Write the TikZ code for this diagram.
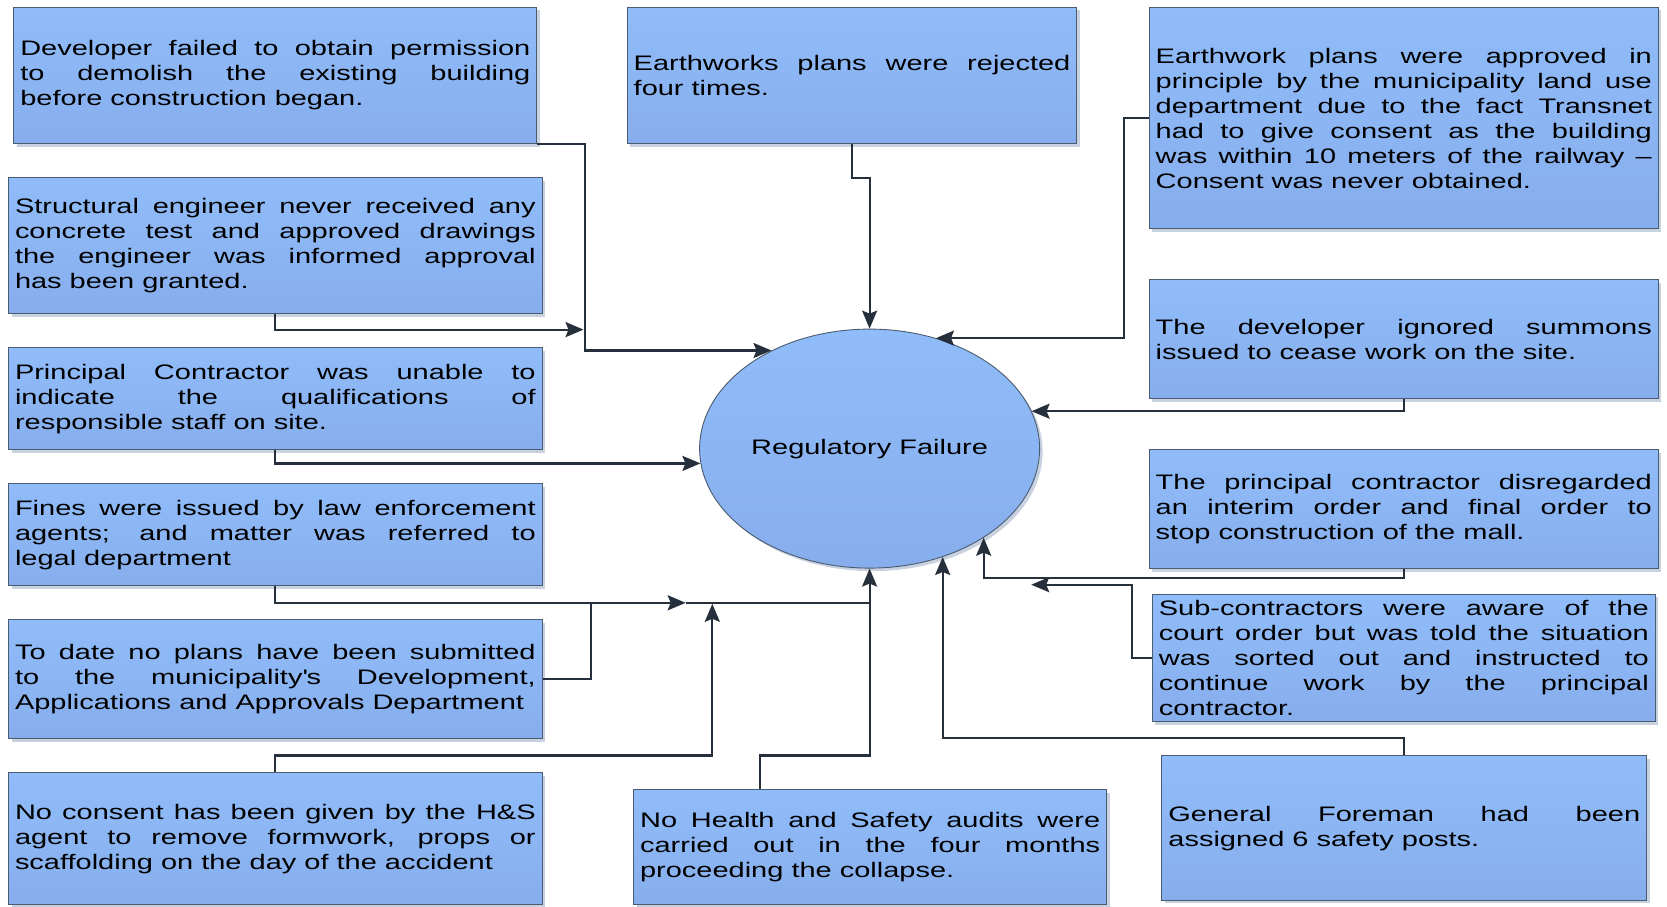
\documentclass[tikz,border=0pt]{standalone}
\usepackage{fontspec}
\setmainfont{Liberation Sans}[FakeStretch=1.38]
\usetikzlibrary{arrows.meta,shadows,calc,shapes.geometric}
\definecolor{boxtop}{HTML}{90BCFA}
\definecolor{boxbot}{HTML}{87AEEC}
\definecolor{boxline}{HTML}{4B5B70}
\definecolor{linec}{HTML}{26303D}
\definecolor{shadowc}{HTML}{B9C6D8}
\newcommand\boxfont{\fontsize{21pt}{25pt}\selectfont}
\hbadness=10000
\begin{document}
\begin{tikzpicture}[x=1pt,y=-1pt,
  cbox/.style={draw=boxline,line width=0.9pt,top color=boxtop,bottom color=boxbot,
    drop shadow={shadow xshift=3pt,shadow yshift=-3pt,fill=shadowc,opacity=0.8},
    inner xsep=6.5pt,inner ysep=0pt,align=justify,font=\boxfont},
  arr/.style={draw=linec,line width=2.2pt,-{Stealth[length=18pt,width=15pt,inset=3pt]}},
  ln/.style={draw=linec,line width=2.2pt}]
\useasboundingbox (0,0) rectangle (1667,907);
\fill[white] (0,0) rectangle (1667,907);

% left column
\node[cbox,minimum width=523.1pt,minimum height=136.1pt,text width=510.1pt] (B1) at (275.35,75.45)
 {Developer failed to obtain permission\linebreak to demolish the existing building\linebreak before construction began.};
\node[cbox,minimum width=533.7pt,minimum height=136.1pt,text width=520.7pt] (B2) at (275.35,245.6)
 {Structural engineer never received any\linebreak concrete test and approved drawings\linebreak the engineer was informed approval\linebreak has been granted.};
\node[cbox,minimum width=533.7pt,minimum height=102.1pt,text width=520.7pt] (B3) at (275.35,398.7)
 {Principal Contractor was unable to\linebreak indicate the qualifications of\linebreak responsible staff on site.};
\node[cbox,minimum width=533.7pt,minimum height=102.1pt,text width=520.7pt] (B4) at (275.35,534.75)
 {Fines were issued by law enforcement\linebreak agents; and matter was referred to\linebreak legal department};
\node[cbox,minimum width=533.7pt,minimum height=119.1pt,text width=520.7pt] (B5) at (275.35,679.3)
 {To date no plans have been submitted\linebreak to the municipality\textquotesingle s Development,\linebreak Applications and Approvals Department};
\node[cbox,minimum width=533.7pt,minimum height=131.8pt,text width=520.7pt] (B6) at (275.35,838.8)
 {No consent has been given by the H\&S\linebreak agent to remove formwork, props or\linebreak scaffolding on the day of the accident};

% middle
\node[cbox,minimum width=449.7pt,minimum height=136.1pt,text width=436.7pt] (M1) at (852.05,75.45)
 {Earthworks plans were rejected\linebreak four times.};
\node[ellipse,draw=boxline,line width=0.9pt,top color=boxtop,bottom color=boxbot,
  drop shadow={shadow xshift=3pt,shadow yshift=-3pt,fill=shadowc,opacity=0.8},
  minimum width=340pt,minimum height=239pt,inner sep=0pt,font=\boxfont] (E) at (869.6,448.6) {Regulatory Failure};
\node[cbox,minimum width=473.1pt,minimum height=114.8pt,text width=460.1pt] (M2) at (870.15,847.3)
 {No Health and Safety audits were\linebreak carried out in the four months\linebreak proceeding the collapse.};

% right column
\node[cbox,minimum width=509.2pt,minimum height=221.1pt,text width=496.2pt] (R1) at (1403.8,118)
 {Earthwork plans were approved in\linebreak principle by the municipality land use\linebreak department due to the fact Transnet\linebreak had to give consent as the building\linebreak was within 10 meters of the railway \textendash\linebreak Consent was never obtained.};
\node[cbox,minimum width=509.2pt,minimum height=119.1pt,text width=496.2pt] (R2) at (1403.8,339.1)
 {The developer ignored summons\linebreak issued to cease work on the site.};
\node[cbox,minimum width=509.2pt,minimum height=119.1pt,text width=496.2pt] (R3) at (1403.8,509.2)
 {The principal contractor disregarded\linebreak an interim order and final order to\linebreak stop construction of the mall.};
\node[cbox,minimum width=502.9pt,minimum height=127.6pt,text width=489.9pt] (R4) at (1403.85,658)
 {Sub-contractors were aware of the\linebreak court order but was told the situation\linebreak was sorted out and instructed to\linebreak continue work by the principal\linebreak contractor.};
\node[cbox,minimum width=484.8pt,minimum height=144.6pt,text width=471.8pt] (R5) at (1404.3,828.1)
 {General Foreman had been\linebreak assigned 6 safety posts.};

% connectors
\coordinate (M) at (583.5,329.6);
\coordinate (K) at (685.7,602.8);
\coordinate (L) at (591.1,602.8);
\coordinate (J) at (712.3,603.8);
\coordinate (N) at (1031.2,584.7);

\draw[arr] (B1.south east) -- ++(47.8,0) |- (E.135);
\draw[arr] (B2.south) |- (M);
\draw[arr] (B3.south) |- (E.185);
\draw[arr] (B4.south) |- (K);
\draw[ln] (K) -- (K -| E.south);
\draw[ln] (B5.east) -| (L);
\draw[arr] (B6.north) -- ++(0,-17) -| (J);
\draw[arr] ($(M2.north west)+(126.5,0)$) -- ++(0,-34) -| (E.south);
\draw[arr] (M1.south) -- ++(0,34) -| (E.north);
\draw[arr] (R1.west) -- ++(-24.5,0) |- (E.59);
\draw[arr] (R2.south) |- (E.13);
\draw[arr] (R3.south) -- ++(0,8.5) -| (E.-38);
\draw[arr] (R4.west) -- ++(-20.2,0) |- (N);
\draw[arr] (R5.north) -- ++(0,-17) -| (E.-56);
\end{tikzpicture}
\end{document}
